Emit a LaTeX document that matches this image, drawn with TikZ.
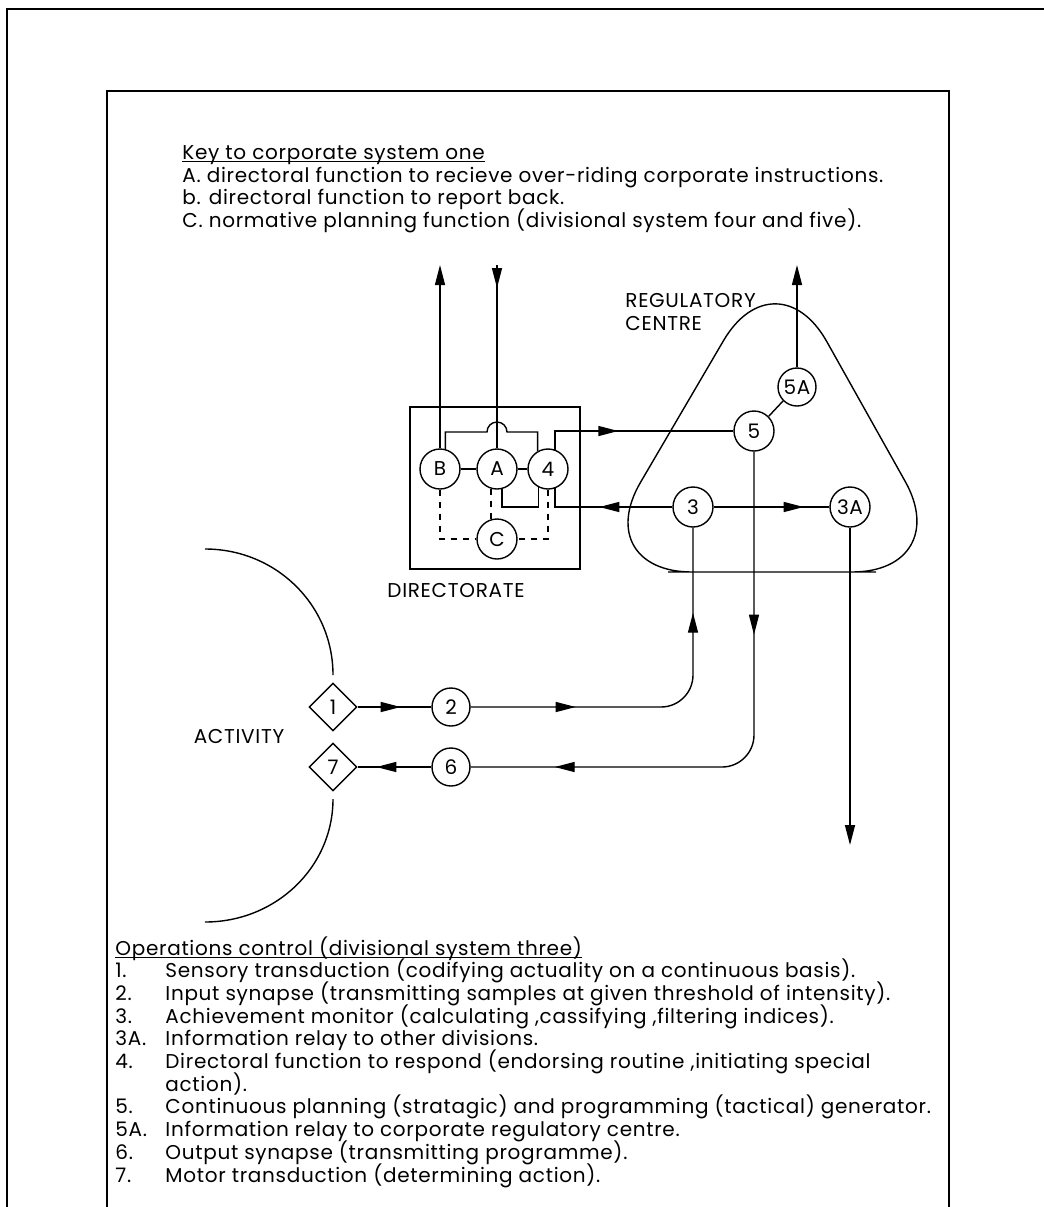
\documentclass[tikz,border=0pt]{standalone}
\usepackage{fontspec}
\setmainfont{Poppins}[LetterSpace=3.5]
\usetikzlibrary{arrows.meta,positioning,shapes.geometric,decorations.markings}
\newcommand{\sheetfont}{\fontsize{10}{11.35}\selectfont\lineskiplimit=-20pt\relax}
\newcommand{\headline}[1]{\setbox0=\hbox{#1}\rlap{\rule[-1.2pt]{\wd0}{0.45pt}}\box0}

\begin{document}
\begin{tikzpicture}[
    x=0.5pt, y=-0.5pt,
    >={Triangle[length=10pt,width=5pt]},
    every node/.style={font=\sheetfont},
    wire/.style={line width=0.7pt},
    unit/.style={
        circle,
        draw,
        line width=0.7pt,
        minimum size=20pt,
        inner sep=0pt
    },
    sense/.style={
        diamond,
        draw,
        line width=0.7pt,
        minimum width=24pt,
        minimum height=24pt,
        inner sep=0pt
    },
    keytext/.style={
        align=left,
        inner sep=0pt,
        anchor=north west
    },
    tipat/.style={
        postaction={decorate, decoration={markings, mark=at position #1 with {\arrow{>}}}}
    }
]
\useasboundingbox (0,0) rectangle (1044,1207);

% sheet frames
\draw[line width=1pt] (7,1207) -- (7,9) -- (1044,9);
\draw[wire] (107,1207) -- (107,91) -- (949,91) -- (949,1207);

\node[keytext] (key) at (182,145) {
\headline{Key to corporate system one}\\
A. directoral function to recieve over-riding corporate instructions.\\
b. directoral function to report back.\\
C. normative planning function (divisional system four and five).
};

% directorate
\node[draw, line width=0.7pt, minimum width=85pt, minimum height=81pt, inner sep=0pt] (dirbox) at (495,488) {};
\node (dirname) at (456,590) {DIRECTORATE};
\node[unit] (cB) at (440,469) {B};
\node[unit] (cA) at (497,469) {A};
\node[unit] (c4) at (548,469) {4};
\node[unit] (cC) at (497,539) {C};

% regulatory centre
\draw[wire, rounded corners=52pt] (772,572) -- (588,572) -- (776,251) -- (956,572) -- cycle;
\node[keytext] (regname) at (625,293) {REGULATORY\\CENTRE};
\node[unit, minimum size=19pt] (c5A) at (797,387) {5A};
\node[unit] (c5) at (754,431) {5};
\node[unit] (c3) at (693,507) {3};
\node[unit] (c3A) at (850,507) {3A};

% activity
\node[sense] (d1) at (333,707) {1};
\node[sense] (d7) at (333,767) {7};
\node[unit, minimum size=19pt] (c2) at (451,707) {2};
\node[unit, minimum size=19pt] (c6) at (451,767) {6};
\node (act) at (239,736) {ACTIVITY};
\draw[wire] (205,549) .. controls (276,549) and (333,605) .. (333,675);
\draw[wire] (333,799) .. controls (333,867) and (276,922) .. (205,922);

\coordinate (outB) at (440,265);
\coordinate (inA) at (497,265);
\coordinate (out5A) at (797,265);
\coordinate (out3A) at (850,845);
\coordinate (hopL) at (487,432);
\coordinate (jA4) at (520,507);

\draw[wire, ->] (cB) -- (outB);
\draw[wire, tipat=11.5pt] (inA) -- (cA);
\draw[wire] (cB.75) |- (hopL) arc[start angle=180, end angle=0, radius=5pt] -| (c4.120);
\draw[wire] (cB) -- (cA);
\draw[wire] (cA) -- (c4);
\draw[wire] (cA.284) |- (jA4) -| (c4.243);
\draw[wire, dashed] (cB.south) |- (cC.west);
\draw[wire, dashed] (cA.253) -- (cC.107);
\draw[wire, dashed] (c4.south) |- (cC.east);

\draw[wire, tipat=-57.5pt] (c4.70) |- (c5.west);
\draw[wire, tipat=36.5pt] (c3.west) -| (c4.290);
\draw[wire] (c5.north east) -- (c5A.south west);
\draw[wire, ->] (c5A) -- (out5A);
\draw[wire, tipat=45pt] (c3.east) -- (c3A.west);
\draw[wire, ->] (c3A) -- (out3A);

\draw[wire, tipat=21.5pt] (d1.east) -- (c2.west);
\draw[wire, rounded corners=16pt, tipat=52.5pt, tipat=-42.5pt] (c2.east) -| (c3.south);
\draw[wire, rounded corners=16pt, tipat=91.5pt, tipat=-42pt] (c5.south) |- (c6.east);
\draw[wire, tipat=27.5pt] (c6.west) -- (d7.east);

\node[keytext] (ops) at (115,936) {
\headline{Operations control (divisional system three)}\\
\makebox[25pt][l]{1.}Sensory transduction (codifying actuality on a continuous basis).\\
\makebox[25pt][l]{2.}Input synapse (transmitting samples at given threshold of intensity).\\
\makebox[25pt][l]{3.}Achievement monitor (calculating ,cassifying ,filtering indices).\\
\makebox[25pt][l]{3A.}Information relay to other divisions.\\
\makebox[25pt][l]{4.}Directoral function to respond (endorsing routine ,initiating special\\
\hspace*{25pt}action).\\
\makebox[25pt][l]{5.}Continuous planning (stratagic) and programming (tactical) generator.\\
\makebox[25pt][l]{5A.}Information relay to corporate regulatory centre.\\
\makebox[25pt][l]{6.}Output synapse (transmitting programme).\\
\makebox[25pt][l]{7.}Motor transduction (determining action).
};

\end{tikzpicture}
\end{document}
